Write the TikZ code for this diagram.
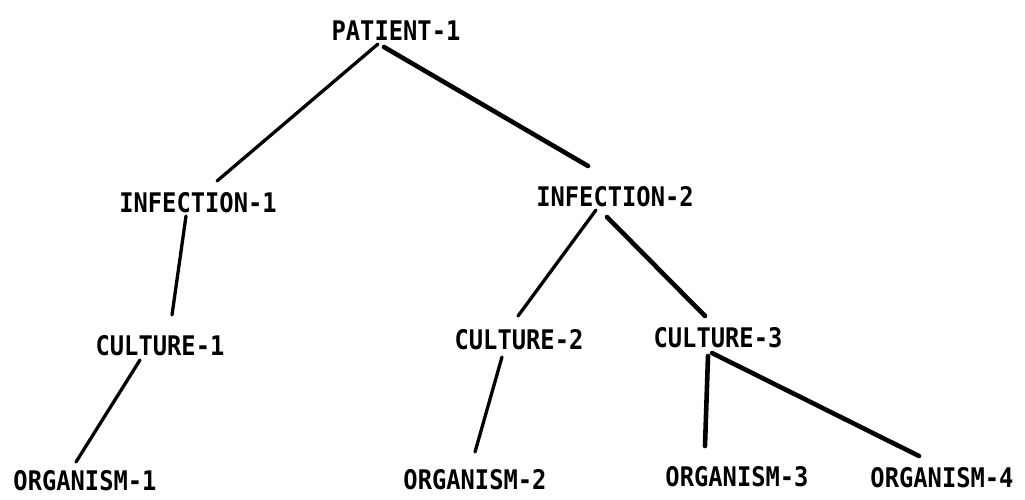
\documentclass[tikz,border=0pt]{standalone}
\usepackage{fontspec}
\setmonofont[FakeStretch=0.88]{DejaVu Sans Mono}
\begin{document}
\begin{tikzpicture}[x=1pt,y=-1pt,
  lbl/.style={inner sep=0pt,font=\ttfamily\bfseries\fontsize{27}{27}\selectfont},
  edge/.style={line width=3.3pt,line cap=round},
  thickedge/.style={line width=4.6pt,line cap=round}]
\useasboundingbox[fill=white] (0,0) rectangle (1025,499);
\node[lbl] (P)  at (396,31)  {PATIENT-1};
\node[lbl] (I1) at (198,203) {INFECTION-1};
\node[lbl] (I2) at (615,197) {INFECTION-2};
\node[lbl] (C1) at (160,346) {CULTURE-1};
\node[lbl] (C2) at (519,340) {CULTURE-2};
\node[lbl] (C3) at (718,338) {CULTURE-3};
\node[lbl] (O1) at (85,481)  {ORGANISM-1};
\node[lbl] (O2) at (475,480) {ORGANISM-2};
\node[lbl] (O3) at (737,477) {ORGANISM-3};
\node[lbl] (O4) at (942,478) {ORGANISM-4};
\draw[edge] ([shift={(-18,13)}]P.center) -- ([shift={(19,-22)}]I1.center);
\draw[thickedge] ([shift={(-12,16)}]P.center) -- ([shift={(-27,-31)}]I2.center);
\draw[edge] ([shift={(-12,13)}]I1.center) -- ([shift={(12,-31)}]C1.center);
\draw[edge] ([shift={(-19,13)}]I2.center) -- ([shift={(-1,-24)}]C2.center);
\draw[thickedge] ([shift={(-8,20)}]I2.center) -- ([shift={(-13,-22)}]C3.center);
\draw[edge] ([shift={(-20,14)}]C1.center) -- ([shift={(-9,-19)}]O1.center);
\draw[edge] ([shift={(-17,17)}]C2.center) -- ([shift={(0,-28)}]O2.center);
\draw[thickedge] ([shift={(-10,18)}]C3.center) -- ([shift={(-32,-31)}]O3.center);
\draw[thickedge] ([shift={(-6,15)}]C3.center) -- ([shift={(-23,-22)}]O4.center);
\end{tikzpicture}
\end{document}
